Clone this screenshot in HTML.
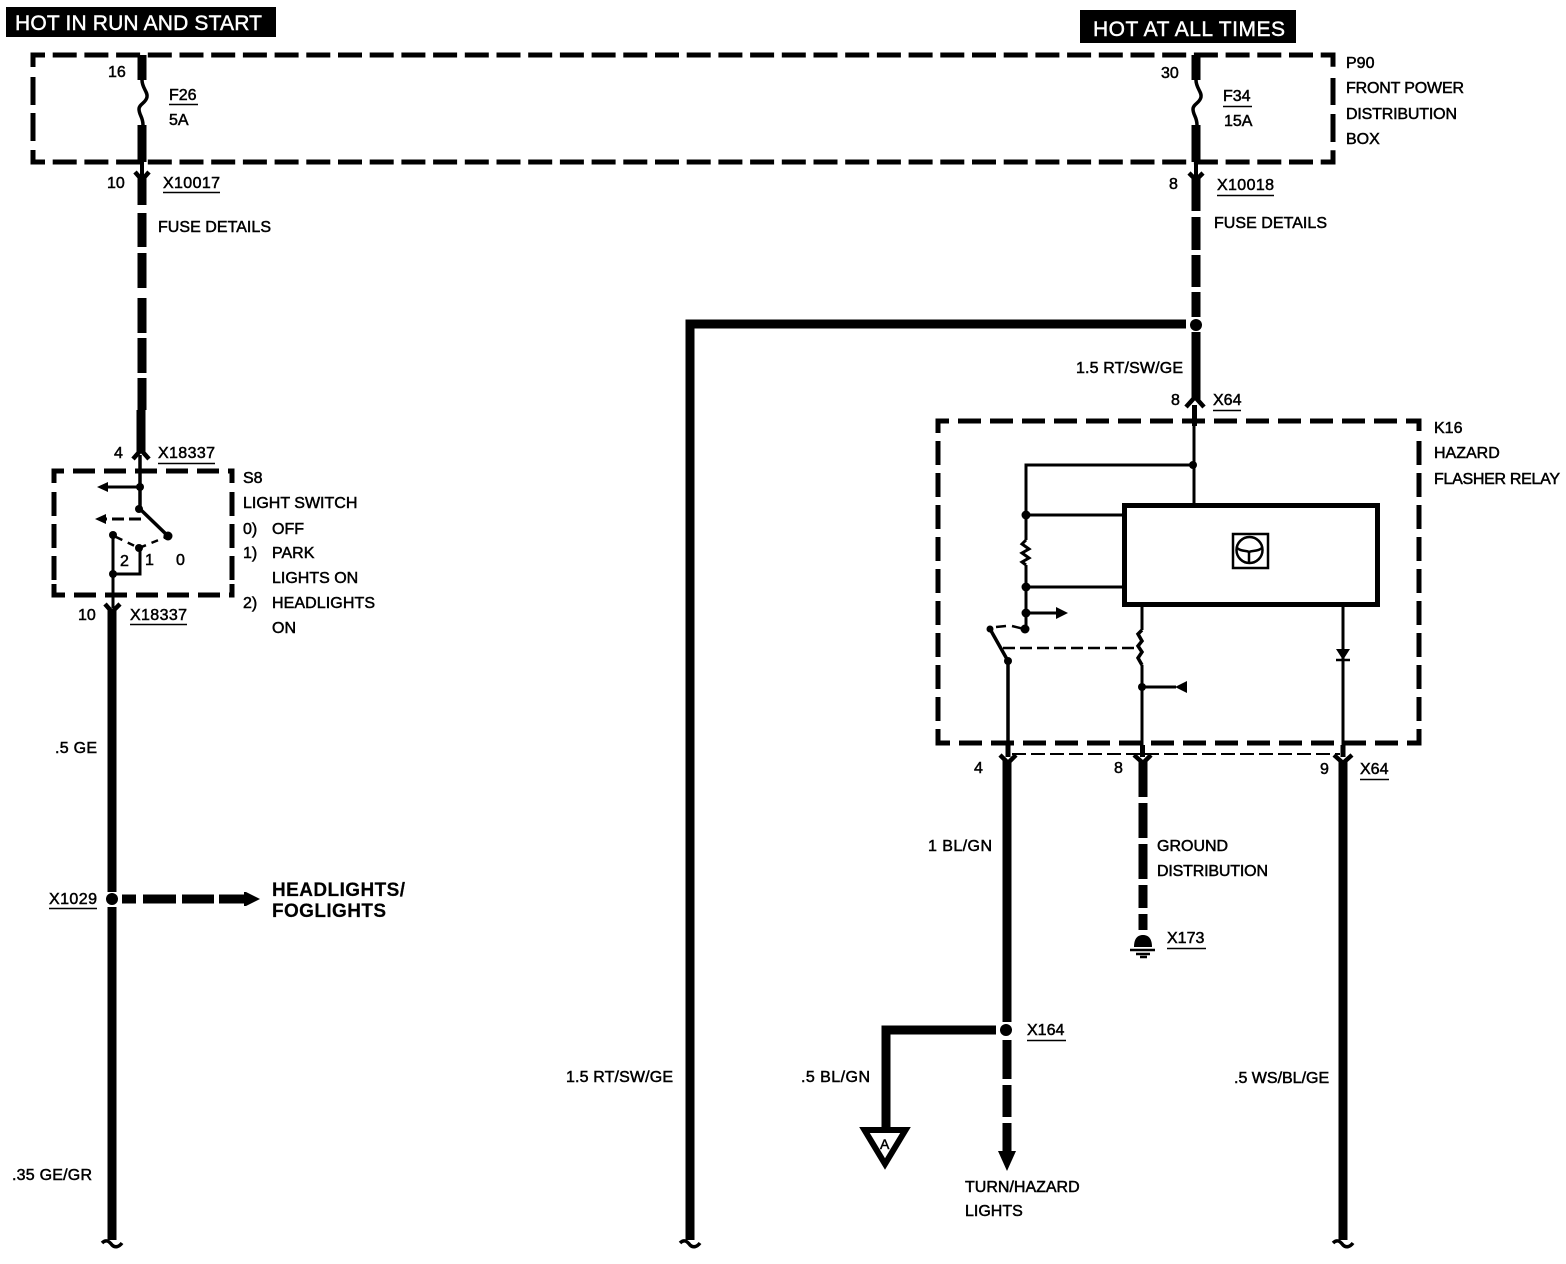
<!DOCTYPE html>
<html><head><meta charset="utf-8"><style>
html,body{margin:0;padding:0;background:#fff}
svg{display:block}
text{font-family:"Liberation Sans",sans-serif;font-size:16px;fill:#000;stroke:#000;stroke-width:.5}
.w{fill:#fff;stroke:#fff;font-size:21px;stroke-width:.45}
.b{font-size:19px;font-weight:bold;stroke-width:.2}
</style></head><body>
<svg width="1566" height="1264" viewBox="0 0 1566 1264" xmlns="http://www.w3.org/2000/svg">
<rect x="6" y="7" width="270" height="30" fill="#000"/>
<text class="w" x="15" y="30" textLength="247">HOT IN RUN AND START</text>
<rect x="1080" y="10" width="216" height="33" fill="#000"/>
<text class="w" x="1093" y="36" textLength="192">HOT AT ALL TIMES</text>

<g fill="none" stroke="#000">
<!-- P90 box -->
<path d="M33 67V55H1333V67" stroke-width="5" stroke-dasharray="24 7.7"/>
<path d="M33 77V105M33 113V141M1333 78V105M1333 114V142" stroke-width="5"/>
<path d="M33 150V162H1333V150" stroke-width="5" stroke-dasharray="24 7.7"/>
<!-- left feed -->
<path d="M142 55V80M142 125V162" stroke-width="9"/>
<path d="M142 80C142 88 148 92 147 97C146 103 139 104 139 109C139 115 143 117 143 125" stroke-width="3.5"/>
<path d="M142 160V176" stroke-width="4"/>
<path d="M142 176V205M142 213V247M142 253V288M142 298V333M142 338V373M142 378V410" stroke-width="9"/>
<path d="M141 410V453" stroke-width="9"/>
<!-- S8 box -->
<path d="M54 483V471H232V483" stroke-width="5" stroke-dasharray="22 9"/>
<path d="M54 492V584M232 492V584" stroke-width="5" stroke-dasharray="24 8"/>
<path d="M54 584V595H232V584" stroke-width="5" stroke-dasharray="22 9"/>
<path d="M140 455V509L168 536" stroke-width="3.5"/>
<path d="M140 487H105" stroke-width="3"/>
<path d="M141 519H105" stroke-width="3" stroke-dasharray="12 5"/>
<path d="M113 535V608M113 574H140V548" stroke-width="3"/>
<path d="M116 537L139 548L166 537" stroke-width="2.5" stroke-dasharray="7 6"/>
<!-- lower left wire -->
<path d="M112 610V892M112 907V1240" stroke-width="9"/>
<path d="M102 1243C106 1239 109 1241 112 1245C115 1248 119 1247 122 1243" stroke-width="3.5"/>
<path d="M122 899H136M143 899H176M182 899H214M219 899H246" stroke-width="9"/>
<!-- middle wire -->
<path d="M1186 324H690V1240" stroke-width="9"/>
<path d="M680 1243C684 1239 687 1241 690 1245C693 1248 697 1247 700 1243" stroke-width="3.5"/>
<!-- right feed -->
<path d="M1196 55V80M1196 125V162" stroke-width="9"/>
<path d="M1196 80C1196 88 1202 92 1201 97C1200 103 1193 104 1193 109C1193 115 1197 117 1197 125" stroke-width="3.5"/>
<path d="M1196 160V176" stroke-width="4"/>
<path d="M1196 176V211M1196 217V250M1196 255V287M1196 292V317M1196 332V338" stroke-width="9"/>
<path d="M1196 338V400" stroke-width="9"/>
<!-- K16 box -->
<path d="M938 433V421H1419V433" stroke-width="5" stroke-dasharray="23 9"/>
<path d="M938 441V732M1419 441V732" stroke-width="5" stroke-dasharray="24 8"/>
<path d="M938 732V743H1419V732" stroke-width="5" stroke-dasharray="23 9"/>
<path d="M1194.500 405V426" stroke-width="5"/>
<path d="M1194 426V505" stroke-width="3"/>
<path d="M1193 465H1026V540M1026 565V629M1026 515H1122M1026 587H1122" stroke-width="3"/>
<path d="M1026 540L1022 544L1029 549L1022 553L1029 558L1022 562L1026 565" stroke-width="3"/>
<rect x="1124.500" y="505.500" width="253" height="99" stroke-width="5"/>
<rect x="1233" y="534" width="35" height="34" stroke-width="2.500"/>
<circle cx="1249.500" cy="550" r="13" stroke-width="2.500"/>
<path d="M1237 548C1242 552 1246 550 1249 552C1253 550 1257 552 1262 548M1249 552V564" stroke-width="2.500"/>
<path d="M1026 613H1058" stroke-width="3"/>
<path d="M1024 629L1012 626M1006 626L996 627" stroke-width="2.500"/>
<path d="M990 629L1008 661V748" stroke-width="3.500"/>
<path d="M1003 648H1138" stroke-width="2.500" stroke-dasharray="12 5"/>
<path d="M1142 605V630M1142 665V748" stroke-width="3"/>
<path d="M1142 630L1138 634L1142 641L1138 646L1142 652L1138 658L1142 665" stroke-width="3.500"/>
<path d="M1142 687H1176" stroke-width="3"/>
<path d="M1343 605V750" stroke-width="3"/>
<path d="M1336 660H1350" stroke-width="2.500"/>
<path d="M1012 754H1340" stroke-width="2" stroke-dasharray="14 5"/>
<path d="M1008 745V757M1142.500 745V757M1343 745V757" stroke-width="5"/>
<!-- lower right wires -->
<path d="M1007 760V1022M1007 1040V1079M1007 1085V1117M1007 1123V1155" stroke-width="9"/>
<path d="M996 1030H886V1130" stroke-width="9"/>
<path d="M864.500 1130H905.500L885 1164Z" stroke-width="6"/>
<path d="M1143 760V797M1143 803V838M1143 844V879M1143 885V908M1143 914V930" stroke-width="9"/>
<path d="M1343 760V1240" stroke-width="9"/>
<path d="M1333 1243C1337 1239 1340 1241 1343 1245C1346 1248 1350 1247 1353 1243" stroke-width="3.500"/>
<path d="M1130 950H1155M1136 954H1150M1140 957H1147" stroke-width="2.500"/>
<!-- connector Ys -->
<path d="M135 172L142 180L149 172" stroke-width="4.500"/>
<path d="M1189 173L1196 180L1203 173" stroke-width="4.500"/>
<path d="M133 459L141 450L149 459" stroke-width="4.500"/>
<path d="M1186 407L1195 397L1204 407" stroke-width="4.500"/>
<path d="M105 604L112 612L120 604" stroke-width="4.500"/>
<path d="M1000 755L1008 763L1016 755" stroke-width="4.500"/>
<path d="M1134 755L1143 763L1151 755" stroke-width="4.500"/>
<path d="M1334 755L1343 763L1352 755" stroke-width="4.500"/>
<!-- underlines -->
<path d="M169 104.500H198M163 192.500H220M1223 106.500H1252M1217 195.500H1274M1213 410.500H1241M158 463.500H215M130 624.500H187M49 908.500H97M1360 779.500H1389M1167 948.500H1206M1027 1040.500H1066" stroke-width="1.500"/>
</g>

<g fill="#000" stroke="none">
<path d="M97 487l11-5v10zM95 519l11-5v10z"/>
<circle cx="140" cy="487" r="4"/><circle cx="139" cy="509" r="4"/><circle cx="168" cy="536" r="4.500"/>
<circle cx="113" cy="535" r="4"/><circle cx="139" cy="548" r="4"/><circle cx="113" cy="574" r="4"/>
<circle cx="112" cy="899" r="6"/>
<path d="M246 892l14 7-14 7h-2v-14z"/>
<circle cx="1196" cy="325" r="6"/>
<circle cx="1193" cy="465" r="4"/><circle cx="1026" cy="515" r="4.500"/><circle cx="1026" cy="587" r="4.500"/><circle cx="1026" cy="613" r="4.500"/><circle cx="1025" cy="629" r="4.500"/>
<circle cx="990" cy="629" r="3.500"/><circle cx="1008" cy="661" r="4"/>
<path d="M1068 613l-12-6v12z"/>
<path d="M1175 687l12-6v12z"/>
<circle cx="1142" cy="687" r="4"/>
<path d="M1336 649h14l-7 11z"/>
<circle cx="1006" cy="1030" r="6"/>
<path d="M998 1151h18l-9 20z"/>
<path d="M1134 947c0-9 4-12 9-12s9 3 9 12z"/>
</g>

<text x="108" y="77">16</text>
<text x="169" y="100">F26</text>
<text x="169" y="125">5A</text>
<text x="107" y="188">10</text>
<text x="163" y="188" textLength="57">X10017</text>
<text x="158" y="232" textLength="113">FUSE DETAILS</text>
<text x="1161" y="78">30</text>
<text x="1223" y="101">F34</text>
<text x="1224" y="126">15A</text>
<text x="1169" y="189">8</text>
<text x="1217" y="190" textLength="57">X10018</text>
<text x="1214" y="228" textLength="113">FUSE DETAILS</text>
<text x="1346" y="68">P90</text>
<text x="1346" y="93" textLength="118">FRONT POWER</text>
<text x="1346" y="119" textLength="111">DISTRIBUTION</text>
<text x="1346" y="144">BOX</text>
<text x="1076" y="373" textLength="107">1.5 RT/SW/GE</text>
<text x="1171" y="405">8</text>
<text x="1213" y="405">X64</text>
<text x="1434" y="433">K16</text>
<text x="1434" y="458">HAZARD</text>
<text x="1434" y="484" textLength="126">FLASHER RELAY</text>
<text x="114" y="458">4</text>
<text x="158" y="458" textLength="57">X18337</text>
<text x="243" y="483">S8</text>
<text x="243" y="508">LIGHT SWITCH</text>
<text x="243" y="534">0)</text><text x="272" y="534">OFF</text>
<text x="243" y="558">1)</text><text x="272" y="558">PARK</text>
<text x="272" y="583">LIGHTS ON</text>
<text x="243" y="608">2)</text><text x="272" y="608" textLength="103">HEADLIGHTS</text>
<text x="272" y="633">ON</text>
<text x="120" y="566">2</text><text x="145" y="565">1</text><text x="176" y="565">0</text>
<text x="78" y="620">10</text>
<text x="130" y="620" textLength="57">X18337</text>
<text x="55" y="753" textLength="42">.5 GE</text>
<text x="49" y="904" textLength="48">X1029</text>
<text class="b" x="272" y="896" textLength="133">HEADLIGHTS/</text>
<text class="b" x="272" y="917" textLength="114">FOGLIGHTS</text>
<text x="12" y="1180" textLength="80">.35 GE/GR</text>
<text x="566" y="1082" textLength="107">1.5 RT/SW/GE</text>
<text x="801" y="1082" textLength="69">.5 BL/GN</text>
<text x="1234" y="1083">.5 WS/BL/GE</text>
<text x="928" y="851" textLength="64">1 BL/GN</text>
<text x="974" y="773">4</text>
<text x="1114" y="773">8</text>
<text x="1320" y="774">9</text>
<text x="1360" y="774">X64</text>
<text x="1157" y="851">GROUND</text>
<text x="1157" y="876" textLength="111">DISTRIBUTION</text>
<text x="1167" y="943">X173</text>
<text x="1027" y="1035">X164</text>
<text x="965" y="1192">TURN/HAZARD</text>
<text x="965" y="1216">LIGHTS</text>
<text x="880" y="1149" style="font-size:14px">A</text>
</svg>
</body></html>
